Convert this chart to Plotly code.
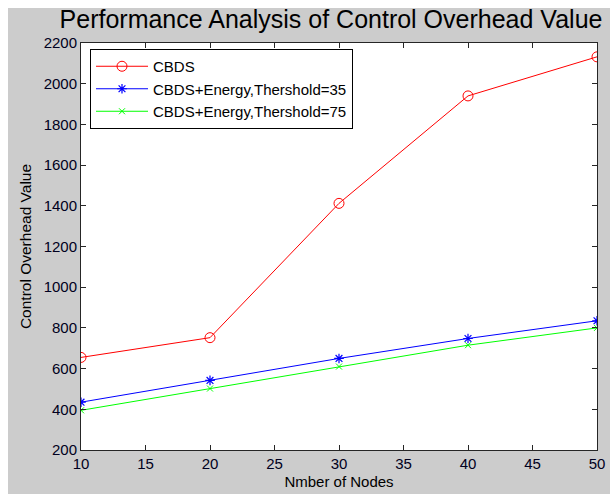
import plotly.graph_objects as go

nodes = [10, 20, 30, 40, 50]
cbds = [655, 752, 1412, 1940, 2132]
cbds_e35 = [435, 542, 650, 748, 835]
cbds_e75 = [395, 502, 610, 715, 800]
names = ["CBDS", "CBDS+Energy,Thershold=35", "CBDS+Energy,Thershold=75"]

FONT = "Arial, Liberation Sans, sans-serif"
W, H = 610, 494
L, R, T, B = 81, 13, 43, 44
pw, ph = W - L - R, H - T - B

fig = go.Figure()
fig.add_trace(go.Scatter(x=nodes, y=cbds, name=names[0], mode="lines+markers",
                         line=dict(color="#ff0000", width=1),
                         marker=dict(symbol="circle-open", size=10, color="#ff0000", line=dict(width=1))))
fig.add_trace(go.Scatter(x=nodes, y=cbds_e35, name=names[1], mode="lines+markers",
                         line=dict(color="#0000ff", width=1),
                         marker=dict(symbol="asterisk-open", size=8, color="#0000ff", line=dict(width=1.2))))
fig.add_trace(go.Scatter(x=nodes, y=cbds_e75, name=names[2], mode="lines+markers",
                         line=dict(color="#00ff00", width=1),
                         marker=dict(symbol="x-thin-open", size=6, color="#00ff00", line=dict(width=1))))

axis_common = dict(showline=True, linecolor="#262626", linewidth=1, mirror="ticks",
                   ticks="inside", ticklen=5, tickcolor="#262626", showgrid=False, zeroline=False,
                   automargin=False,
                   tickfont=dict(family=FONT, size=15, color="#000020"))

fig.update_layout(
    width=W, height=H,
    margin=dict(l=L, r=R, t=T, b=B),
    paper_bgcolor="#cccccc", plot_bgcolor="white",
    title=dict(text="Performance Analysis of Control Overhead Value", x=331 / W,
               xanchor="center", y=1 - 19.5 / H, yanchor="middle", yref="container", xref="container",
               font=dict(family=FONT, size=25, color="black")),
    xaxis=dict(range=[10, 50], dtick=5, tick0=10,
               title=dict(text="Nmber of Nodes", font=dict(family=FONT, size=15, color="black"), standoff=5),
               **axis_common),
    yaxis=dict(range=[200, 2200], dtick=200, tick0=200,
               title=dict(text="Control Overhead Value", font=dict(family=FONT, size=15.5, color="black"), standoff=8),
               ticklabelstandoff=0,
               **axis_common),
    legend=dict(x=(90 - L) / pw, y=(H - B - 49) / ph, xanchor="left", yanchor="top",
                bgcolor="white", bordercolor="black", borderwidth=1, itemwidth=52,
                font=dict(family=FONT, size=15, color="black"), tracegroupgap=0),
    showlegend=True,
)
# white frame strips at top and left (outside the figure's gray panel)
fig.add_shape(type="rect", xref="paper", yref="paper",
              x0=-L / pw - 0.01, x1=(W - L) / pw + 0.01, y0=(H - B - 8) / ph, y1=(H - B) / ph + 0.01,
              fillcolor="white", line_width=0, layer="above")
fig.add_shape(type="rect", xref="paper", yref="paper",
              x0=-L / pw - 0.01, x1=(8 - L) / pw, y0=-B / ph - 0.01, y1=(H - B) / ph + 0.01,
              fillcolor="white", line_width=0, layer="above")

fig.write_html("out.html")
